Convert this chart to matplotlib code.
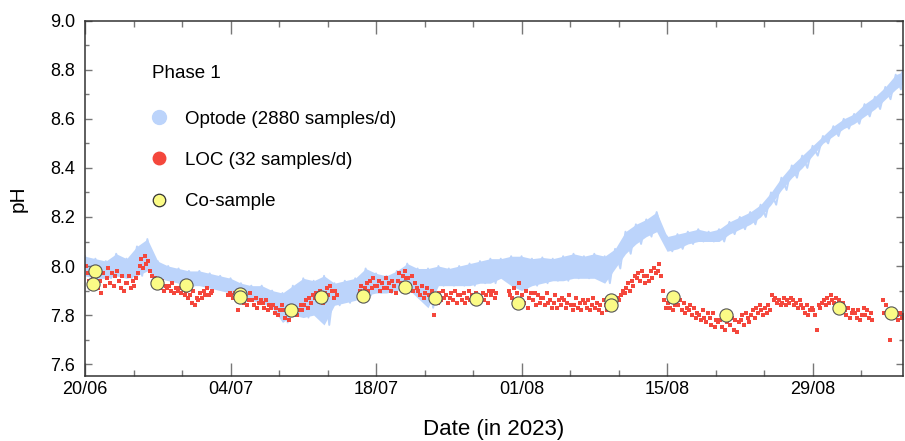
import numpy as np
import matplotlib
matplotlib.use("Agg")
import matplotlib.pyplot as plt
from matplotlib.ticker import MultipleLocator, FixedLocator
from matplotlib.lines import Line2D

plt.rcParams['font.family'] = ['Liberation Sans', 'DejaVu Sans']

# ---------------- data (days since 20/06/2023) ----------------
tick_days = [0, 14, 28, 42, 56, 70]
tick_labels = ['20/06', '04/07', '18/07', '01/08', '15/08', '29/08']

# Optode (2880 samples/d): daily upper / lower excursions of the trace
opt_days = [0, 1, 2, 3, 4, 5, 6, 7, 8, 9, 10, 11, 12, 13, 14, 15, 16, 17, 18, 19,
            20, 21, 22, 23, 24, 25, 26, 27, 28, 29, 30, 31, 32, 33, 34, 35, 36, 37, 38, 39,
            40, 41, 42, 43, 44, 45, 46, 47, 48, 49, 50, 51, 52, 53, 54, 55, 56, 57, 58, 59,
            60, 61, 62, 63, 64, 65, 66, 67, 68, 69, 70, 71, 72, 73, 74, 75, 76, 77, 78, 78.6]
opt_hi = [8.04, 8.03, 8.02, 8.05, 8.03, 8.08, 8.11, 8.02, 8.00, 7.99, 7.98, 7.98, 7.97, 7.96, 7.95, 7.93, 7.92, 7.92, 7.90, 7.89,
          7.92, 7.95, 7.94, 7.96, 7.93, 7.94, 7.95, 7.99, 7.97, 7.96, 7.98, 8.01, 7.99, 7.99, 8.00, 7.99, 8.00, 8.01, 8.02, 8.03,
          8.03, 8.04, 8.04, 8.03, 8.035, 8.03, 8.04, 8.05, 8.04, 8.05, 8.04, 8.07, 8.14, 8.17, 8.19, 8.22, 8.12, 8.13, 8.14, 8.15,
          8.14, 8.15, 8.18, 8.20, 8.22, 8.25, 8.30, 8.36, 8.41, 8.45, 8.49, 8.53, 8.57, 8.60, 8.62, 8.66, 8.69, 8.73, 8.78, 8.79]
opt_lo = [7.96, 7.95, 7.95, 7.96, 7.95, 7.96, 7.98, 7.95, 7.94, 7.93, 7.92, 7.92, 7.91, 7.90, 7.89, 7.88, 7.86, 7.85, 7.83, 7.77,
          7.80, 7.79, 7.80, 7.76, 7.84, 7.85, 7.86, 7.88, 7.89, 7.89, 7.90, 7.91, 7.87, 7.83, 7.92, 7.92, 7.92, 7.92, 7.93, 7.93,
          7.95, 7.92, 7.90, 7.92, 7.93, 7.94, 7.94, 7.95, 7.95, 7.95, 7.93, 7.99, 8.05, 8.09, 8.12, 8.14, 8.06, 8.07, 8.09, 8.10,
          8.10, 8.10, 8.13, 8.15, 8.17, 8.20, 8.25, 8.31, 8.36, 8.40, 8.45, 8.50, 8.53, 8.56, 8.58, 8.61, 8.64, 8.68, 8.72, 8.74]

# LOC (32 samples/d): six readings per day (nan = no data)
nan = np.nan
loc_ph = [
    [8.00, 7.97, 7.94, 7.98, 7.95, 7.93], [7.96, 7.91, 7.94, 7.89, 7.97, 7.92],
    [7.95, 7.99, 7.93, 7.97, 7.92, 7.96], [7.98, 7.94, 7.91, 7.96, 7.90, 7.93],
    [7.93, 7.96, 7.91, 7.94, 7.92, 7.95], [7.97, 8.00, 8.03, 7.99, 8.04, 8.01],
    [8.02, 7.98, 7.96, 7.93, 7.95, 7.92], [7.93, 7.91, 7.94, 7.90, 7.92, 7.91],
    [7.92, 7.90, 7.93, 7.89, 7.91, 7.90], [7.91, 7.89, 7.92, 7.88, 7.90, 7.87],
    [7.88, 7.85, 7.90, 7.84, 7.87, 7.86], [7.89, 7.87, 7.90, 7.88, 7.91, 7.88],
    [7.89, 7.90, nan, nan, nan, nan], [nan, nan, nan, nan, 7.88, 7.89],
    [7.88, 7.87, 7.89, 7.88, 7.82, 7.87], [7.88, 7.85, 7.87, 7.84, 7.86, 7.89],
    [7.86, 7.84, 7.87, 7.83, 7.85, 7.86], [7.85, 7.83, 7.86, 7.82, 7.84, 7.83],
    [7.84, 7.81, 7.83, 7.80, 7.82, 7.84], [7.82, 7.79, 7.81, 7.78, 7.80, 7.81],
    [7.81, 7.83, 7.80, 7.82, 7.84, 7.82], [7.84, 7.86, 7.83, 7.87, 7.85, 7.88],
    [7.87, 7.89, 7.86, 7.90, 7.88, 7.85], [7.89, 7.91, 7.88, 7.92, 7.90, 7.87],
    [7.90, 7.88, nan, nan, nan, nan], [nan, nan, nan, nan, nan, nan],
    [nan, nan, 7.90, 7.92, 7.89, 7.91], [7.93, 7.90, 7.94, 7.91, 7.95, 7.92],
    [7.92, 7.94, 7.90, 7.93, 7.91, 7.95], [7.91, 7.93, 7.90, 7.94, 7.92, 7.89],
    [7.94, 7.97, 7.93, 7.96, 7.98, 7.95], [7.95, 7.92, 7.96, 7.90, 7.93, 7.91],
    [7.90, 7.88, 7.92, 7.87, 7.89, 7.91], [7.88, 7.86, 7.90, 7.80, 7.87, 7.85],
    [7.89, 7.86, 7.90, 7.87, 7.88, 7.85], [7.87, 7.89, 7.86, 7.90, 7.85, 7.88],
    [7.88, 7.86, 7.89, 7.85, 7.87, 7.90], [7.86, 7.88, 7.85, 7.89, 7.87, 7.86],
    [7.87, 7.89, 7.86, 7.88, 7.85, 7.90], [7.88, 7.90, 7.87, 7.89, nan, nan],
    [nan, nan, nan, nan, 7.90, 7.88], [7.87, 7.91, 7.85, 7.89, 7.93, 7.86],
    [7.88, 7.85, 7.90, 7.83, 7.87, 7.89], [7.86, 7.89, 7.84, 7.88, 7.85, 7.87],
    [7.87, 7.84, 7.89, 7.85, 7.86, 7.83], [7.85, 7.88, 7.83, 7.86, 7.84, 7.87],
    [7.86, 7.83, 7.85, 7.88, 7.84, 7.82], [7.84, 7.87, 7.83, 7.85, 7.82, 7.86],
    [7.85, 7.83, 7.86, 7.82, 7.84, 7.87], [7.83, 7.85, 7.82, 7.84, 7.81, 7.86],
    [7.84, 7.82, 7.85, 7.83, 7.86, 7.84], [7.85, 7.87, 7.86, 7.88, 7.90, 7.89],
    [7.91, 7.93, 7.90, 7.94, 7.92, 7.96], [7.95, 7.97, 7.94, 7.98, 7.96, 7.93],
    [7.96, 7.94, 7.98, 7.95, 7.99, 7.97], [7.98, 8.01, 7.96, 7.90, 7.86, 7.83],
    [7.85, 7.83, 7.87, 7.82, 7.84, 7.86], [7.84, 7.86, 7.82, 7.85, 7.81, 7.83],
    [7.82, 7.84, 7.80, 7.83, 7.79, 7.81], [7.80, 7.78, 7.82, 7.79, 7.77, 7.81],
    [7.79, 7.76, 7.81, 7.75, 7.78, 7.77], [7.78, 7.75, 7.80, 7.74, 7.77, 7.79],
    [7.76, 7.79, 7.74, 7.78, 7.73, 7.77], [7.78, 7.80, 7.76, 7.81, 7.79, 7.77],
    [7.80, 7.82, 7.79, 7.83, 7.81, 7.84], [7.82, 7.80, 7.83, 7.81, 7.84, 7.82],
    [7.88, 7.86, 7.87, 7.85, 7.86, 7.84], [7.85, 7.87, 7.84, 7.86, 7.85, 7.87],
    [7.86, 7.84, 7.85, 7.83, 7.86, 7.84], [7.83, 7.81, 7.84, 7.80, 7.82, 7.83],
    [7.82, 7.80, 7.74, 7.84, 7.83, 7.85], [7.86, 7.84, 7.87, 7.85, 7.88, 7.86],
    [7.85, 7.87, 7.84, 7.86, 7.83, 7.85], [7.82, 7.80, 7.83, 7.79, 7.81, 7.82],
    [7.81, 7.79, 7.82, 7.78, 7.80, 7.83], [7.80, 7.82, 7.79, 7.81, 7.78, nan],
    [nan, nan, nan, nan, 7.86, 7.81], [7.84, 7.80, 7.70, 7.82, 7.79, 7.81],
    [7.80, 7.78, 7.81, 7.79, 7.80, nan],
]

# Co-samples
cs_days = [0.96, 0.74, 6.95, 9.71, 14.9, 14.9, 19.8, 22.66, 26.7, 30.74, 33.7,
           37.66, 41.66, 50.64, 50.64, 56.57, 61.63, 72.53, 77.5]
cs_ph = [7.98, 7.928, 7.931, 7.924, 7.886, 7.874, 7.819, 7.873, 7.876, 7.914, 7.869,
         7.864, 7.85, 7.86, 7.842, 7.874, 7.801, 7.83, 7.81]

# ---------------- styling ----------------
c_opt = '#bcd4fb'
c_loc = '#f4473c'
c_cs = '#fbfb86'

fig = plt.figure(figsize=(9.05, 4.41), dpi=100)
ax = fig.add_axes([85 / 905, 1 - 375.7 / 441, (903 - 85) / 905, (375.7 - 20.7) / 441])

# optode trace: band between the daily high and low excursions
ax.fill_between(opt_days, opt_lo, opt_hi, color=c_opt, lw=0, zorder=1)
zig_t = np.ravel(np.column_stack([opt_days, np.array(opt_days) + 0.5]))
zig_v = np.ravel(np.column_stack([opt_hi, opt_lo]))
ax.plot(zig_t, zig_v, color=c_opt, lw=1.4, zorder=1)

# LOC points
loc_arr = np.array(loc_ph, dtype=float)
n_days, per_day = loc_arr.shape
loc_t = (np.arange(n_days)[:, None] + (np.arange(per_day)[None, :] + 0.5) / per_day).ravel()
ax.plot(loc_t, loc_arr.ravel(), 's', ms=2.3, mew=0, color=c_loc, zorder=2)

# co-samples
ax.plot(cs_days, cs_ph, 'o', ms=9.5, mfc=c_cs, mec='#555555', mew=0.8, ls='none', zorder=3)

# axes
ax.set_xlim(0, 78.7)
ax.set_ylim(7.553, 9.0)
ax.xaxis.set_major_locator(FixedLocator(tick_days))
ax.set_xticklabels(tick_labels)
ax.xaxis.set_minor_locator(MultipleLocator(14 / 3))
ax.yaxis.set_major_locator(MultipleLocator(0.2))
ax.yaxis.set_minor_locator(MultipleLocator(0.1))
ax.yaxis.set_major_formatter(matplotlib.ticker.FormatStrFormatter('%.1f'))

for s in ax.spines.values():
    s.set_color('#333333')
    s.set_linewidth(1.1)

ax.tick_params(axis='x', which='major', direction='in', length=9.5, width=1.0,
               color='#777777', labelsize=13, pad=4, top=True)
ax.tick_params(axis='x', which='minor', direction='in', length=4.5, width=1.0,
               color='#777777', top=True)
ax.tick_params(axis='y', which='major', direction='in', length=5, width=1.0,
               color='#777777', labelsize=13, pad=7, right=True)
ax.tick_params(axis='y', which='minor', direction='in', length=3, width=1.0,
               color='#777777', right=True)

ax.set_xlabel('Date (in 2023)', fontsize=16, labelpad=15)
ax.set_ylabel('pH', fontsize=15, labelpad=16)

# legend
fig.text(152 / 905, 1 - 74 / 441, 'Phase 1', fontsize=13.5, ha='left', va='center')
handles = [
    Line2D([], [], ls='none', marker='o', ms=10, mfc=c_opt, mec=c_opt),
    Line2D([], [], ls='none', marker='o', ms=9, mfc=c_loc, mec=c_loc),
    Line2D([], [], ls='none', marker='o', ms=9, mfc=c_cs, mec='#333333', mew=0.9),
]
labels = ['Optode (2880 samples/d)', 'LOC (32 samples/d)', 'Co-sample']
leg = ax.legend(handles, labels, frameon=False, loc='upper left',
                bbox_to_anchor=(140 / 905, 1 - 101 / 441), bbox_transform=fig.transFigure,
                fontsize=13.5, labelspacing=1.3,
                handlelength=1.0, handletextpad=0.9, borderpad=0)

fig.savefig('out.png', dpi=100)
